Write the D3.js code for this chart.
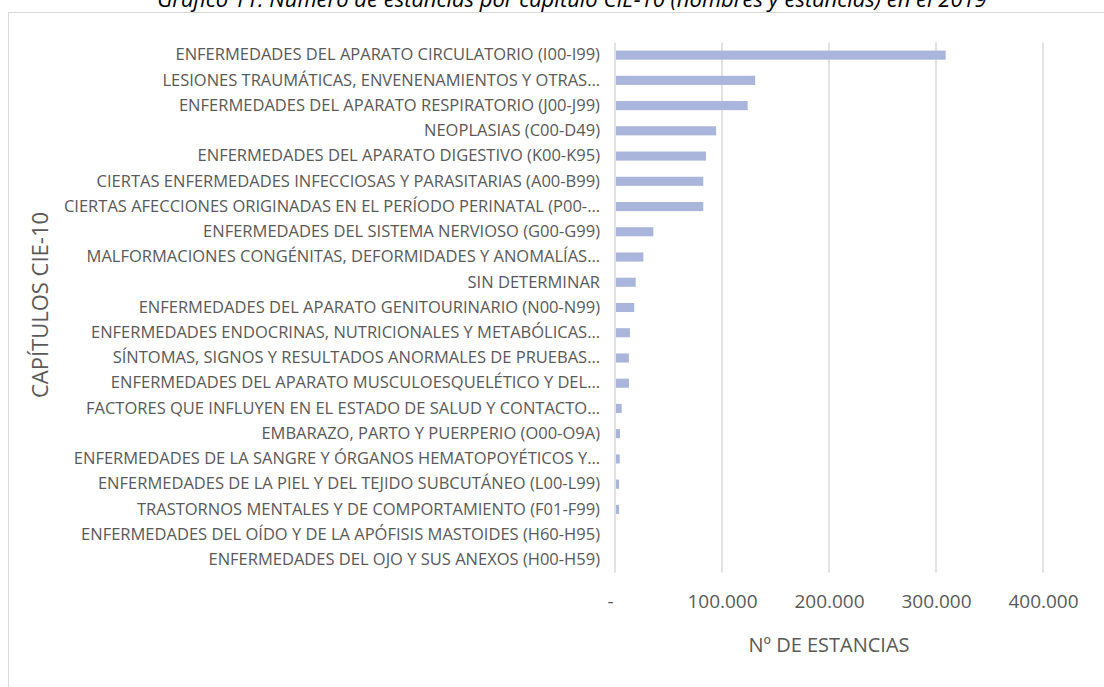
<!DOCTYPE html>
<html>
<head>
<meta charset="utf-8">
<script src="https://cdn.jsdelivr.net/npm/d3@7"></script>
<style>
  body { margin: 0; background: #fff; }
  svg { display: block; font-family: "Open Sans", sans-serif; }
</style>
</head>
<body>
<script>
var width = 1104;
var height = 687;

var titleText = 'Gráfico 11. Número de estancias por capítulo CIE-10 (nombres y estancias) en el 2019';
var xTitle = 'Nº DE ESTANCIAS';
var yTitle = 'CAPÍTULOS CIE-10';

var categories = [
    'ENFERMEDADES DEL APARATO CIRCULATORIO (I00-I99)',
    'LESIONES TRAUMÁTICAS, ENVENENAMIENTOS Y OTRAS…',
    'ENFERMEDADES DEL APARATO RESPIRATORIO (J00-J99)',
    'NEOPLASIAS (C00-D49)',
    'ENFERMEDADES DEL APARATO DIGESTIVO (K00-K95)',
    'CIERTAS ENFERMEDADES INFECCIOSAS Y PARASITARIAS (A00-B99)',
    'CIERTAS AFECCIONES ORIGINADAS EN EL PERÍODO PERINATAL (P00-…',
    'ENFERMEDADES DEL SISTEMA NERVIOSO (G00-G99)',
    'MALFORMACIONES CONGÉNITAS, DEFORMIDADES Y ANOMALÍAS…',
    'SIN DETERMINAR',
    'ENFERMEDADES DEL APARATO GENITOURINARIO (N00-N99)',
    'ENFERMEDADES ENDOCRINAS, NUTRICIONALES Y METABÓLICAS…',
    'SÍNTOMAS, SIGNOS Y RESULTADOS ANORMALES DE PRUEBAS…',
    'ENFERMEDADES DEL APARATO MUSCULOESQUELÉTICO Y DEL…',
    'FACTORES QUE INFLUYEN EN EL ESTADO DE SALUD Y CONTACTO…',
    'EMBARAZO, PARTO Y PUERPERIO (O00-O9A)',
    'ENFERMEDADES DE LA SANGRE Y ÓRGANOS HEMATOPOYÉTICOS Y…',
    'ENFERMEDADES DE LA PIEL Y DEL TEJIDO SUBCUTÁNEO (L00-L99)',
    'TRASTORNOS MENTALES Y DE COMPORTAMIENTO (F01-F99)',
    'ENFERMEDADES DEL OÍDO Y DE LA APÓFISIS MASTOIDES (H60-H95)',
    'ENFERMEDADES DEL OJO Y SUS ANEXOS (H00-H59)'
];

var estancias = [
    309000, 131000, 124000, 94500, 85000, 82500, 82500, 35800, 26500, 19300,
    18000, 14000, 13000, 13000, 6200, 4700, 4400, 3800, 3800, 300, 200
];

var xTicks = [0, 100000, 200000, 300000, 400000];

var plot = {left: 615, right: 1043, top: 42.5, bottom: 572.5};
var barColor = '#a9b5da';
var gridColor = '#d9d9d9';
var textColor = '#595959';

var svg = d3.select('body').append('svg')
    .attr('width', width)
    .attr('height', height);

// chart frame
svg.append('rect')
    .attr('x', 8.5).attr('y', 12.5)
    .attr('width', 1200).attr('height', 800)
    .attr('fill', 'none')
    .attr('stroke', gridColor);

// title, cut off at the top edge as in the source
svg.append('text')
    .attr('x', 572).attr('y', 7)
    .attr('text-anchor', 'middle')
    .style('font-style', 'italic')
    .style('font-size', '22px')
    .attr('fill', '#000')
    .text(titleText);

var x = d3.scaleLinear().domain([0, 400000]).range([plot.left, plot.right]);
var y = d3.scaleBand().domain(categories).range([plot.top, plot.bottom]).paddingInner(0.64).paddingOuter(0.32);

var fmt = function (d) {
    return d === 0 ? '-' : d3.format(',')(d).replace(/,/g, '.');
};

// gridlines
svg.append('g').selectAll('line')
    .data(xTicks)
    .enter().append('line')
    .attr('x1', function (d) { return x(d); })
    .attr('x2', function (d) { return x(d); })
    .attr('y1', plot.top)
    .attr('y2', plot.bottom)
    .attr('stroke', gridColor)
    .attr('stroke-width', 1.5);

// bars
svg.append('g').selectAll('rect')
    .data(estancias)
    .enter().append('rect')
    .attr('x', x(0) + 1)
    .attr('y', function (d, i) { return y(categories[i]); })
    .attr('width', function (d) { return Math.max(0, x(d) - x(0) - 1); })
    .attr('height', y.bandwidth())
    .attr('fill', barColor);

// x axis labels
var xAxis = d3.axisBottom(x).tickValues(xTicks).tickFormat(fmt).tickSize(0).tickPadding(0);
var gx = svg.append('g')
    .attr('transform', 'translate(0,' + 594 + ')')
    .call(xAxis);
gx.select('.domain').remove();
gx.selectAll('text')
    .attr('fill', textColor)
    .style('font-size', '19px')
    .style('font-family', '"Open Sans", sans-serif')
    .attr('dx', function (d) { return d === 0 ? -5 : 0; });

// category labels
var yAxis = d3.axisLeft(y).tickSize(0).tickPadding(15);
var gy = svg.append('g')
    .attr('transform', 'translate(' + plot.left + ',0)')
    .call(yAxis);
gy.select('.domain').remove();
gy.selectAll('text')
    .attr('fill', textColor)
    .style('font-size', '16.5px')
    .style('font-family', '"Open Sans", sans-serif');

// axis titles
svg.append('text')
    .attr('x', (plot.left + plot.right) / 2)
    .attr('y', 652)
    .attr('text-anchor', 'middle')
    .attr('fill', textColor)
    .style('font-size', '20px')
    .text(xTitle);

svg.append('text')
    .attr('transform', 'translate(48,305) rotate(-90)')
    .attr('text-anchor', 'middle')
    .attr('fill', textColor)
    .style('font-size', '22px')
    .text(yTitle);
</script>
</body>
</html>
